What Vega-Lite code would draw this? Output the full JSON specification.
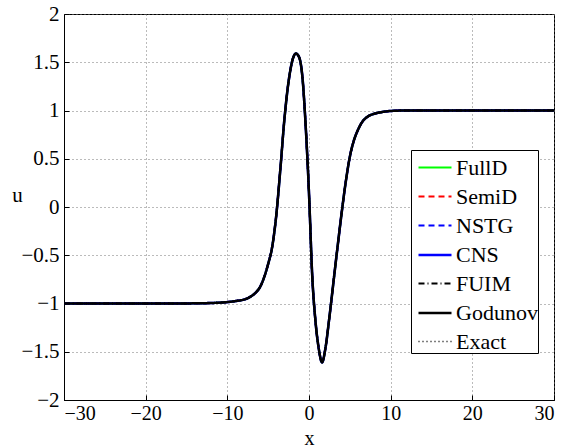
{
  "$schema": "https://vega.github.io/schema/vega-lite/v6.json",
  "width": 490,
  "height": 386,
  "autosize": {"type": "none"},
  "padding": {"left": 64, "top": 14, "right": 12, "bottom": 48},
  "background": "white",
  "config": {
    "view": {"stroke": "black", "strokeWidth": 1},
    "font": "Liberation Serif",
    "axis": {
      "labelFont": "Liberation Serif",
      "labelFontSize": 21,
      "labelColor": "black",
      "titleFont": "Liberation Serif",
      "titleFontSize": 21,
      "titleFontWeight": "normal",
      "titleColor": "black",
      "domainColor": "black",
      "tickColor": "black",
      "gridColor": "#777777",
      "gridDash": [1, 3],
      "gridOpacity": 1
    },
    "legend": {
      "labelFont": "Liberation Serif"
    }
  },
  "data": {
    "values": [
      {"x": -30, "FullD": -1, "SemiD": -1, "NSTG": -1, "CNS": -1, "FUIM": -1, "Godunov": -1, "Exact": -1},
      {"x": -20, "FullD": -1, "SemiD": -1, "NSTG": -1, "CNS": -1, "FUIM": -1, "Godunov": -1, "Exact": -1},
      {"x": -15, "FullD": -0.999, "SemiD": -0.999, "NSTG": -0.999, "CNS": -0.999, "FUIM": -0.999, "Godunov": -0.999, "Exact": -0.999},
      {"x": -12, "FullD": -0.995, "SemiD": -0.995, "NSTG": -0.995, "CNS": -0.995, "FUIM": -0.995, "Godunov": -0.995, "Exact": -0.995},
      {"x": -10, "FullD": -0.985, "SemiD": -0.985, "NSTG": -0.985, "CNS": -0.985, "FUIM": -0.985, "Godunov": -0.985, "Exact": -0.985},
      {"x": -9, "FullD": -0.975, "SemiD": -0.975, "NSTG": -0.975, "CNS": -0.975, "FUIM": -0.975, "Godunov": -0.975, "Exact": -0.975},
      {"x": -8, "FullD": -0.96, "SemiD": -0.96, "NSTG": -0.96, "CNS": -0.96, "FUIM": -0.96, "Godunov": -0.96, "Exact": -0.96},
      {"x": -7.5, "FullD": -0.945, "SemiD": -0.945, "NSTG": -0.945, "CNS": -0.945, "FUIM": -0.945, "Godunov": -0.945, "Exact": -0.945},
      {"x": -7, "FullD": -0.92, "SemiD": -0.92, "NSTG": -0.92, "CNS": -0.92, "FUIM": -0.92, "Godunov": -0.92, "Exact": -0.92},
      {"x": -6.5, "FullD": -0.885, "SemiD": -0.885, "NSTG": -0.885, "CNS": -0.885, "FUIM": -0.885, "Godunov": -0.885, "Exact": -0.885},
      {"x": -6, "FullD": -0.83, "SemiD": -0.83, "NSTG": -0.83, "CNS": -0.83, "FUIM": -0.83, "Godunov": -0.83, "Exact": -0.83},
      {"x": -5.5, "FullD": -0.73, "SemiD": -0.73, "NSTG": -0.73, "CNS": -0.73, "FUIM": -0.73, "Godunov": -0.73, "Exact": -0.73},
      {"x": -5, "FullD": -0.59, "SemiD": -0.59, "NSTG": -0.59, "CNS": -0.59, "FUIM": -0.59, "Godunov": -0.59, "Exact": -0.59},
      {"x": -4.5, "FullD": -0.41, "SemiD": -0.41, "NSTG": -0.41, "CNS": -0.41, "FUIM": -0.41, "Godunov": -0.41, "Exact": -0.41},
      {"x": -4, "FullD": -0.08, "SemiD": -0.08, "NSTG": -0.08, "CNS": -0.08, "FUIM": -0.08, "Godunov": -0.08, "Exact": -0.08},
      {"x": -3.5, "FullD": 0.4, "SemiD": 0.4, "NSTG": 0.4, "CNS": 0.4, "FUIM": 0.4, "Godunov": 0.4, "Exact": 0.4},
      {"x": -3, "FullD": 0.92, "SemiD": 0.92, "NSTG": 0.92, "CNS": 0.92, "FUIM": 0.92, "Godunov": 0.92, "Exact": 0.92},
      {"x": -2.5, "FullD": 1.3, "SemiD": 1.3, "NSTG": 1.3, "CNS": 1.3, "FUIM": 1.3, "Godunov": 1.3, "Exact": 1.3},
      {"x": -2, "FullD": 1.53, "SemiD": 1.53, "NSTG": 1.53, "CNS": 1.53, "FUIM": 1.53, "Godunov": 1.53, "Exact": 1.53},
      {"x": -1.6, "FullD": 1.59, "SemiD": 1.59, "NSTG": 1.59, "CNS": 1.59, "FUIM": 1.59, "Godunov": 1.59, "Exact": 1.59},
      {"x": -1.2, "FullD": 1.55, "SemiD": 1.55, "NSTG": 1.55, "CNS": 1.55, "FUIM": 1.55, "Godunov": 1.55, "Exact": 1.55},
      {"x": -0.8, "FullD": 1.34, "SemiD": 1.34, "NSTG": 1.34, "CNS": 1.34, "FUIM": 1.34, "Godunov": 1.34, "Exact": 1.34},
      {"x": -0.4, "FullD": 0.83, "SemiD": 0.83, "NSTG": 0.83, "CNS": 0.83, "FUIM": 0.83, "Godunov": 0.83, "Exact": 0.83},
      {"x": 0, "FullD": 0.14, "SemiD": 0.14, "NSTG": 0.14, "CNS": 0.14, "FUIM": 0.14, "Godunov": 0.14, "Exact": 0.14},
      {"x": 0.4, "FullD": -0.72, "SemiD": -0.72, "NSTG": -0.72, "CNS": -0.72, "FUIM": -0.72, "Godunov": -0.72, "Exact": -0.72},
      {"x": 0.8, "FullD": -1.19, "SemiD": -1.19, "NSTG": -1.19, "CNS": -1.19, "FUIM": -1.19, "Godunov": -1.19, "Exact": -1.19},
      {"x": 1.2, "FullD": -1.47, "SemiD": -1.47, "NSTG": -1.47, "CNS": -1.47, "FUIM": -1.47, "Godunov": -1.47, "Exact": -1.47},
      {"x": 1.6, "FullD": -1.61, "SemiD": -1.61, "NSTG": -1.61, "CNS": -1.61, "FUIM": -1.61, "Godunov": -1.61, "Exact": -1.61},
      {"x": 2, "FullD": -1.47, "SemiD": -1.47, "NSTG": -1.47, "CNS": -1.47, "FUIM": -1.47, "Godunov": -1.47, "Exact": -1.47},
      {"x": 2.5, "FullD": -1.14, "SemiD": -1.14, "NSTG": -1.14, "CNS": -1.14, "FUIM": -1.14, "Godunov": -1.14, "Exact": -1.14},
      {"x": 3, "FullD": -0.775, "SemiD": -0.775, "NSTG": -0.775, "CNS": -0.775, "FUIM": -0.775, "Godunov": -0.775, "Exact": -0.775},
      {"x": 3.5, "FullD": -0.41, "SemiD": -0.41, "NSTG": -0.41, "CNS": -0.41, "FUIM": -0.41, "Godunov": -0.41, "Exact": -0.41},
      {"x": 4, "FullD": -0.06, "SemiD": -0.06, "NSTG": -0.06, "CNS": -0.06, "FUIM": -0.06, "Godunov": -0.06, "Exact": -0.06},
      {"x": 4.5, "FullD": 0.26, "SemiD": 0.26, "NSTG": 0.26, "CNS": 0.26, "FUIM": 0.26, "Godunov": 0.26, "Exact": 0.26},
      {"x": 5, "FullD": 0.52, "SemiD": 0.52, "NSTG": 0.52, "CNS": 0.52, "FUIM": 0.52, "Godunov": 0.52, "Exact": 0.52},
      {"x": 5.5, "FullD": 0.69, "SemiD": 0.69, "NSTG": 0.69, "CNS": 0.69, "FUIM": 0.69, "Godunov": 0.69, "Exact": 0.69},
      {"x": 6, "FullD": 0.8, "SemiD": 0.8, "NSTG": 0.8, "CNS": 0.8, "FUIM": 0.8, "Godunov": 0.8, "Exact": 0.8},
      {"x": 6.5, "FullD": 0.88, "SemiD": 0.88, "NSTG": 0.88, "CNS": 0.88, "FUIM": 0.88, "Godunov": 0.88, "Exact": 0.88},
      {"x": 7, "FullD": 0.925, "SemiD": 0.925, "NSTG": 0.925, "CNS": 0.925, "FUIM": 0.925, "Godunov": 0.925, "Exact": 0.925},
      {"x": 7.5, "FullD": 0.952, "SemiD": 0.952, "NSTG": 0.952, "CNS": 0.952, "FUIM": 0.952, "Godunov": 0.952, "Exact": 0.952},
      {"x": 8, "FullD": 0.966, "SemiD": 0.966, "NSTG": 0.966, "CNS": 0.966, "FUIM": 0.966, "Godunov": 0.966, "Exact": 0.966},
      {"x": 9, "FullD": 0.985, "SemiD": 0.985, "NSTG": 0.985, "CNS": 0.985, "FUIM": 0.985, "Godunov": 0.985, "Exact": 0.985},
      {"x": 10, "FullD": 0.995, "SemiD": 0.995, "NSTG": 0.995, "CNS": 0.995, "FUIM": 0.995, "Godunov": 0.995, "Exact": 0.995},
      {"x": 12, "FullD": 1, "SemiD": 1, "NSTG": 1, "CNS": 1, "FUIM": 1, "Godunov": 1, "Exact": 1},
      {"x": 15, "FullD": 1, "SemiD": 1, "NSTG": 1, "CNS": 1, "FUIM": 1, "Godunov": 1, "Exact": 1},
      {"x": 20, "FullD": 1, "SemiD": 1, "NSTG": 1, "CNS": 1, "FUIM": 1, "Godunov": 1, "Exact": 1},
      {"x": 30, "FullD": 1, "SemiD": 1, "NSTG": 1, "CNS": 1, "FUIM": 1, "Godunov": 1, "Exact": 1}
    ]
  },
  "transform": [
    {"fold": ["FullD", "SemiD", "NSTG", "CNS", "FUIM", "Godunov", "Exact"], "as": ["method", "u"]}
  ],
  "mark": {"type": "line", "interpolate": "monotone", "clip": true},
  "encoding": {
    "x": {
      "field": "x", "type": "quantitative",
      "scale": {"domain": [-30, 30], "nice": false, "zero": false},
      "axis": {
        "values": [-30, -20, -10, 0, 10, 20, 30],
        "title": "x",
        "grid": true,
        "tickSize": -5,
        "labelFontSize": 20,
        "labelPadding": 8,
        "titleFontSize": 20,
        "titleY": 38,
        "titleBaseline": "middle",
        "titleAnchor": "middle"
      }
    },
    "y": {
      "field": "u", "type": "quantitative",
      "scale": {"domain": [-2, 2], "nice": false, "zero": false},
      "axis": {
        "values": [-2, -1.5, -1, -0.5, 0, 0.5, 1, 1.5, 2],
        "format": "~f",
        "title": "u",
        "grid": true,
        "tickSize": -5,
        "labelPadding": 10,
        "titleAngle": 0,
        "titleX": -47,
        "titleY": 187,
        "titleAlign": "center",
        "titleBaseline": "alphabetic"
      }
    },
    "color": {
      "field": "method", "type": "nominal",
      "scale": {
        "domain": ["FullD", "SemiD", "NSTG", "CNS", "FUIM", "Godunov", "Exact"],
        "range": ["#00ff00", "#ff0000", "#0000ff", "#0000ff", "#000000", "#000000", "#000000"]
      },
      "legend": {
        "title": null, "orient": "none", "legendX": 347, "legendY": 136,
        "symbolType": "stroke", "symbolSize": 1089, "symbolOffset": 6,
        "labelFontSize": 22, "labelColor": "black", "rowPadding": -5, "padding": 0,
        "strokeColor": "black", "fillColor": "white", "labelOffset": 3
      }
    },
    "strokeDash": {
      "field": "method", "type": "nominal",
      "scale": {
        "domain": ["FullD", "SemiD", "NSTG", "CNS", "FUIM", "Godunov", "Exact"],
        "range": [[1, 0], [6, 4], [6, 4], [1, 0], [6, 3, 1, 3], [1, 0], [1, 3]]
      },
      "legend": {
        "title": null, "orient": "none", "legendX": 347, "legendY": 136,
        "symbolType": "stroke", "symbolSize": 1089, "symbolOffset": 6,
        "labelFontSize": 22, "labelColor": "black", "rowPadding": -5, "padding": 0,
        "strokeColor": "black", "fillColor": "white", "labelOffset": 3
      }
    },
    "strokeWidth": {
      "field": "method", "type": "nominal",
      "scale": {
        "type": "ordinal",
        "domain": ["FullD", "SemiD", "NSTG", "CNS", "FUIM", "Godunov", "Exact"],
        "range": [2, 2, 2, 2.5, 2, 2.5, 1.5]
      },
      "legend": {
        "title": null, "orient": "none", "legendX": 347, "legendY": 136,
        "symbolType": "stroke", "symbolSize": 1089, "symbolOffset": 6,
        "labelFontSize": 22, "labelColor": "black", "rowPadding": -5, "padding": 0,
        "strokeColor": "black", "fillColor": "white", "labelOffset": 3
      }
    }
  }
}
